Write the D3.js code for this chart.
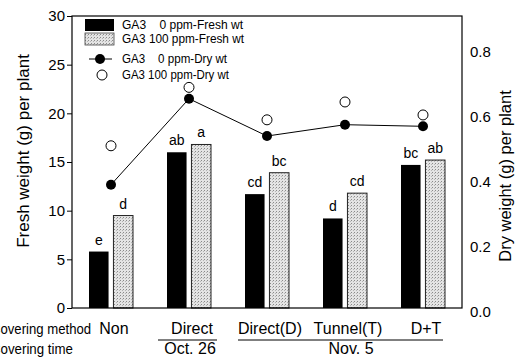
<!DOCTYPE html>
<html>
<head>
<meta charset="utf-8">
<script src="https://cdn.jsdelivr.net/npm/d3@7"></script>
<style>
  body { margin: 0; background: #fff; }
  svg { display: block; font-family: "Liberation Sans", Arial, sans-serif; }
</style>
</head>
<body>
<div id="chart"></div>
<script>
// covering method groups
var groups = ["Non", "Direct", "Direct(D)", "Tunnel(T)", "D+T"];
// fresh weight (g) per plant
var fresh0 = [5.8, 16.0, 11.7, 9.2, 14.7];
var fresh100 = [9.5, 16.8, 13.9, 11.8, 15.2];
var letters0 = ["e", "ab", "cd", "d", "bc"];
var letters100 = ["d", "a", "bc", "cd", "ab"];
// dry weight (g) per plant
var dry0 = [0.38, 0.645, 0.53, 0.565, 0.56];
var dry100 = [0.50, 0.68, 0.58, 0.635, 0.595];
var freshTicks = [0, 5, 10, 15, 20, 25, 30];
var dryTicks = [0, 0.2, 0.4, 0.6, 0.8];
var legendLabels = ["GA3    0 ppm-Fresh wt", "GA3 100 ppm-Fresh wt", "GA3    0 ppm-Dry wt", "GA3 100 ppm-Dry wt"];

var W = 524, H = 359;
var margin = {top: 16, right: 62, bottom: 51, left: 72};
var width = W - margin.left - margin.right,
    height = H - margin.top - margin.bottom;

var svg = d3.select("#chart").append("svg")
    .attr("width", W)
    .attr("height", H);

// stipple pattern for the GA3 100 ppm bars
var defs = svg.append("defs");
var pat = defs.append("pattern")
    .attr("id", "dots")
    .attr("width", 3).attr("height", 3)
    .attr("patternUnits", "userSpaceOnUse");
pat.append("rect").attr("width", 3).attr("height", 3).attr("fill", "#e4e4e4");
pat.append("rect").attr("width", 1).attr("height", 1).attr("fill", "#8a8a8a");
pat.append("rect").attr("x", 2).attr("y", 1).attr("width", 1).attr("height", 1).attr("fill", "#b5b5b5");

var g = svg.append("g")
    .attr("transform", "translate(" + margin.left + "," + margin.top + ")");

var x = d3.scaleBand().domain(groups).range([0, width]);
var xs = d3.scaleBand().domain(["0", "100"]).range([-22, 22]).paddingInner(0.2);
var y = d3.scaleLinear().domain([0, 30]).range([height, 0]);
var y2 = d3.scaleLinear().domain([0, 0.9]).range([height, 0]);

// bars
var rows = groups.map(function(d, i) {
  return {g: d, v0: fresh0[i], v100: fresh100[i], l0: letters0[i], l100: letters100[i]};
});

g.selectAll(".bar0").data(rows).enter().append("rect")
    .attr("class", "bar0")
    .attr("x", function(d) { return x(d.g) + x.bandwidth() / 2 + xs("0"); })
    .attr("y", function(d) { return y(d.v0); })
    .attr("width", xs.bandwidth())
    .attr("height", function(d) { return height - y(d.v0); })
    .attr("fill", "#000");

g.selectAll(".bar100").data(rows).enter().append("rect")
    .attr("class", "bar100")
    .attr("x", function(d) { return x(d.g) + x.bandwidth() / 2 + xs("100"); })
    .attr("y", function(d) { return y(d.v100); })
    .attr("width", xs.bandwidth())
    .attr("height", function(d) { return height - y(d.v100); })
    .attr("fill", "url(#dots)")
    .attr("stroke", "#222")
    .attr("stroke-width", 1);

// significance letters
g.selectAll(".lab0").data(rows).enter().append("text")
    .attr("x", function(d) { return x(d.g) + x.bandwidth() / 2 + xs("0") + xs.bandwidth() / 2; })
    .attr("y", function(d) { return y(d.v0) - 7; })
    .attr("text-anchor", "middle")
    .style("font-size", "14px")
    .text(function(d) { return d.l0; });

g.selectAll(".lab100").data(rows).enter().append("text")
    .attr("x", function(d) { return x(d.g) + x.bandwidth() / 2 + xs("100") + xs.bandwidth() / 2; })
    .attr("y", function(d) { return y(d.v100) - 7; })
    .attr("text-anchor", "middle")
    .style("font-size", "14px")
    .text(function(d) { return d.l100; });

// dry weight line + points
var cx = function(d, i) { return x(groups[i]) + x.bandwidth() / 2; };
var line = d3.line()
    .x(function(d, i) { return cx(d, i); })
    .y(function(d) { return y2(d); });

g.append("path")
    .datum(dry0)
    .attr("d", line)
    .attr("fill", "none")
    .attr("stroke", "#000")
    .attr("stroke-width", 1);

g.selectAll(".dry0").data(dry0).enter().append("circle")
    .attr("cx", cx)
    .attr("cy", function(d) { return y2(d); })
    .attr("r", 5)
    .attr("fill", "#000");

g.selectAll(".dry100").data(dry100).enter().append("circle")
    .attr("cx", cx)
    .attr("cy", function(d) { return y2(d); })
    .attr("r", 5)
    .attr("fill", "#fff")
    .attr("stroke", "#000")
    .attr("stroke-width", 1);

// frame
g.append("rect")
    .attr("width", width).attr("height", height)
    .attr("fill", "none").attr("stroke", "#000").attr("stroke-width", 1.2);

// left axis
var yAxis = g.append("g")
    .call(d3.axisLeft(y).tickValues(freshTicks).tickSize(5).tickPadding(2));
yAxis.select(".domain").remove();
yAxis.selectAll("text").style("font-size", "15px").attr("fill", "#000");

// right axis (no tick marks)
var y2Axis = g.append("g")
    .attr("transform", "translate(" + width + ",0)")
    .call(d3.axisRight(y2).tickValues(dryTicks).tickFormat(d3.format(".1f")).tickSize(0).tickPadding(8));
y2Axis.select(".domain").remove();
y2Axis.selectAll("text").style("font-size", "15px").attr("fill", "#000").attr("dy", "0.55em");

// axis titles
svg.append("text")
    .attr("transform", "translate(29,151) rotate(-90)")
    .attr("text-anchor", "middle")
    .style("font-size", "17px")
    .text("Fresh weight (g) per plant");

svg.append("text")
    .attr("transform", "translate(511,176) rotate(-90)")
    .attr("text-anchor", "middle")
    .style("font-size", "16.5px")
    .text("Dry weight (g) per plant");

// legend (condensed text squeezed with textLength)
var leg = g.append("g").attr("transform", "translate(13,3)");
leg.append("rect").attr("x", 0).attr("y", 0).attr("width", 29).attr("height", 12).attr("fill", "#000");
leg.append("rect").attr("x", 0).attr("y", 14).attr("width", 29).attr("height", 12)
    .attr("fill", "url(#dots)").attr("stroke", "#444").attr("stroke-width", 0.8);
leg.append("line").attr("x1", 4).attr("x2", 27).attr("y1", 40).attr("y2", 40).attr("stroke", "#000");
leg.append("circle").attr("cx", 15).attr("cy", 40).attr("r", 5).attr("fill", "#000");
leg.append("circle").attr("cx", 17).attr("cy", 56).attr("r", 5).attr("fill", "#fff").attr("stroke", "#000");

var legLen = [121, 122, 105, 107];
legendLabels.forEach(function(l, i) {
  var ty = [10, 24, 44, 60][i];
  leg.append("text").attr("x", 37).attr("y", ty)
      .style("font-size", "13px")
      .style("white-space", "pre")
      .attr("textLength", legLen[i]).attr("lengthAdjust", "spacingAndGlyphs")
      .text(l);
});

// covering method / time labels (condensed, cut at the left edge like the original)
var gx = function(name) { return margin.left + x(name) + x.bandwidth() / 2; };
var row1 = 334, row2 = 354;

svg.append("text")
    .attr("transform", "translate(-9," + row1 + ") scale(0.877,1)")
    .style("font-size", "15px")
    .text("Covering method");
svg.append("text")
    .attr("transform", "translate(-9," + row2 + ") scale(0.886,1)")
    .style("font-size", "15px")
    .text("Covering time");

groups.forEach(function(name) {
  svg.append("text")
      .attr("x", gx(name) + 3)
      .attr("y", row1)
      .attr("text-anchor", "middle")
      .style("font-size", "16px")
      .text(name);
});

// Oct. 26 bracket
svg.append("line")
    .attr("x1", gx("Direct") - 31).attr("x2", gx("Direct") + 28)
    .attr("y1", row1 + 6).attr("y2", row1 + 6)
    .attr("stroke", "#000");
svg.append("text")
    .attr("x", gx("Direct") + 1).attr("y", row2)
    .attr("text-anchor", "middle")
    .style("font-size", "16px")
    .text("Oct. 26");

// Nov. 5 bracket
svg.append("line")
    .attr("x1", gx("Direct(D)") - 29).attr("x2", gx("D+T") + 20)
    .attr("y1", row1 + 6).attr("y2", row1 + 6)
    .attr("stroke", "#000");
svg.append("text")
    .attr("x", gx("Tunnel(T)") + 6).attr("y", row2)
    .attr("text-anchor", "middle")
    .style("font-size", "16px")
    .text("Nov. 5");
</script>
</body>
</html>
